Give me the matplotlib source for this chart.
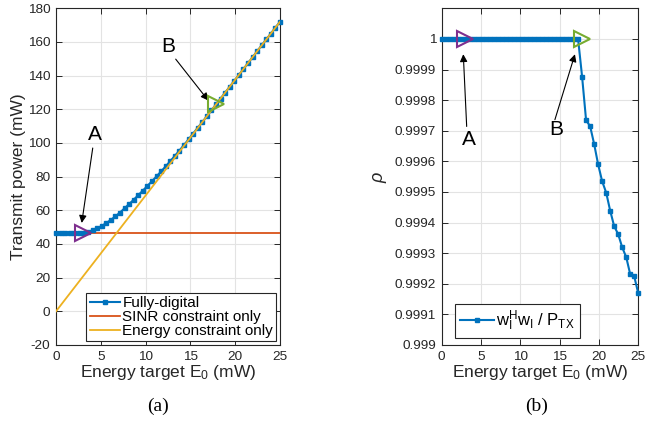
import numpy as np
import matplotlib
matplotlib.use("Agg")
import matplotlib.pyplot as plt

plt.rcParams["font.family"] = ["Liberation Sans", "DejaVu Sans"]
plt.rcParams["mathtext.fontset"] = "custom"
plt.rcParams["mathtext.rm"] = "Liberation Sans"
plt.rcParams["mathtext.it"] = "Liberation Sans:italic"
plt.rcParams["mathtext.bf"] = "Liberation Sans:bold"
plt.rcParams["axes.unicode_minus"] = False

# Energy target grid (mW)
energy_target = np.linspace(0, 25, 50)

# (a) transmit power (mW)
fully_digital = [
    46.7, 46.7, 46.7, 46.7, 46.7, 46.7, 46.7, 47.2, 48.1, 49.3,
    50.7, 52.4, 54.3, 56.4, 58.7, 61.2, 63.7, 66.3, 69.0, 71.7,
    74.5, 77.3, 80.2, 83.1, 86.1, 89.2, 92.3, 95.5, 98.8, 102.1,
    105.6, 109.0, 112.4, 115.9, 119.3, 122.9, 126.4, 129.9, 133.4, 136.9,
    140.4, 143.9, 147.4, 150.9, 154.5, 158.0, 161.5, 165.0, 168.5, 172.0,
]
sinr_only_power = 46.7
energy_only_x = [0, 25]
energy_only_y = [0.0, 172.0]

# (b) ratio rho
rho = [1.0] * 35 + [
    0.999877, 0.999734, 0.999715, 0.999657, 0.999590,
    0.999535, 0.999498, 0.999439, 0.999388, 0.999362,
    0.999319, 0.999287, 0.999231, 0.999224, 0.999169,
]

# operating points A and B
point_A_E, point_A_P = 3.0, 46.7
point_B_E, point_B_P = 17.86, 122.9

C_BLUE = "#0072BD"
C_RED = "#D95319"
C_YEL = "#EDB120"
C_PUR = "#7E2F8E"
C_GRN = "#77AC30"
C_TXT = "#262626"

TICK_FS = 9.7
LABEL_FS = 12.5

fig = plt.figure(figsize=(6.46, 4.23), dpi=100)
ax1 = fig.add_axes([0.0867, 0.1844, 0.3467, 0.796])
ax2 = fig.add_axes([0.6837, 0.1844, 0.3043, 0.796])


def style_axes(ax):
    ax.grid(True, color="#e3e3e3", linewidth=0.8)
    ax.set_axisbelow(True)
    for sp in ax.spines.values():
        sp.set_color(C_TXT)
        sp.set_linewidth(0.8)
    ax.tick_params(direction="in", top=True, right=True, length=4,
                   width=0.7, colors=C_TXT, labelsize=TICK_FS, pad=4)
    for lbl in ax.get_xticklabels() + ax.get_yticklabels():
        lbl.set_color(C_TXT)


# ---- (a) ----
ax1.plot(energy_target, fully_digital, color=C_BLUE, lw=1.5, marker="s",
         ms=3.2, mfc=C_BLUE, mec=C_BLUE, label="Fully-digital", zorder=4,
         clip_on=False)
ax1.axhline(sinr_only_power, color=C_RED, lw=1.3, label="SINR constraint only",
            zorder=3)
ax1.plot(energy_only_x, energy_only_y, color=C_YEL, lw=1.3,
         label="Energy constraint only", zorder=5)
ax1.plot(point_A_E, point_A_P, marker=">", ms=12, mfc="none", mec=C_PUR,
         mew=1.5, zorder=6, clip_on=False)
ax1.plot(point_B_E, point_B_P, marker=">", ms=12, mfc="none", mec=C_GRN,
         mew=1.5, zorder=6, clip_on=False)
ax1.set_xlim(0, 25)
ax1.set_ylim(-20, 180)
ax1.set_xticks(np.arange(0, 26, 5))
ax1.set_yticks(np.arange(-20, 181, 20))
ax1.set_xlabel(r"Energy target E$_\mathregular{0}$ (mW)", fontsize=LABEL_FS,
               color=C_TXT, labelpad=0)
ax1.set_ylabel("Transmit power (mW)", fontsize=LABEL_FS, color=C_TXT,
               labelpad=1)
style_axes(ax1)

arrow_kw = dict(arrowstyle="-|>", color="k", lw=0.8, mutation_scale=11,
                shrinkA=0, shrinkB=0)
ax1.text(4.35, 104.9, "A", fontsize=15, ha="center", va="center")
ax1.annotate("", xy=(2.87, 52.5), xytext=(4.1, 97.0), arrowprops=arrow_kw)
ax1.text(12.5, 157.2, "B", fontsize=15, ha="center", va="center")
ax1.annotate("", xy=(17.0, 125.2), xytext=(13.36, 149.8), arrowprops=arrow_kw)

leg1 = ax1.legend(loc="lower right", fontsize=11, frameon=True, fancybox=False,
                  edgecolor=C_TXT, framealpha=1, borderpad=0.2,
                  labelspacing=0.0, handlelength=2.0, handletextpad=0.15,
                  borderaxespad=0.25)
leg1.get_frame().set_linewidth(0.8)

# ---- (b) ----
ax2.plot(energy_target, rho, color=C_BLUE, lw=1.5, marker="s", ms=3.2,
         mfc=C_BLUE, mec=C_BLUE, zorder=4, clip_on=False,
         label=r"$\mathregular{w_I^H w_I}$ / $\mathregular{P_{TX}}$")
ax2.plot(point_A_E, 1.0, marker=">", ms=12, mfc="none", mec=C_PUR, mew=1.5,
         zorder=6, clip_on=False)
ax2.plot(point_B_E, 1.0, marker=">", ms=12, mfc="none", mec=C_GRN, mew=1.5,
         zorder=6, clip_on=False)
ax2.set_xlim(0, 25)
ax2.set_ylim(0.999, 1.0001)
ax2.set_xticks(np.arange(0, 26, 5))
rho_ticks = [0.999, 0.9991, 0.9992, 0.9993, 0.9994, 0.9995, 0.9996,
             0.9997, 0.9998, 0.9999, 1.0]
rho_tick_labels = ["0.999", "0.9991", "0.9992", "0.9993", "0.9994", "0.9995",
                   "0.9996", "0.9997", "0.9998", "0.9999", "1"]
ax2.set_yticks(rho_ticks)
ax2.set_yticklabels(rho_tick_labels)
ax2.set_xlabel(r"Energy target E$_\mathregular{0}$ (mW)", fontsize=LABEL_FS,
               color=C_TXT, labelpad=0)
ax2.set_ylabel(r"$\rho$", fontsize=13, color=C_TXT, labelpad=4)
style_axes(ax2)

ax2.text(3.51, 0.999671, "A", fontsize=15, ha="center", va="center")
ax2.annotate("", xy=(2.75, 0.99995), xytext=(3.18, 0.999714),
             arrowprops=arrow_kw)
ax2.text(14.62, 0.999703, "B", fontsize=15, ha="center", va="center")
ax2.annotate("", xy=(16.95, 0.99995), xytext=(14.4, 0.999736),
             arrowprops=arrow_kw)

leg2 = ax2.legend(loc="lower left", bbox_to_anchor=(0.07, 0.02), fontsize=12,
                  frameon=True, fancybox=False, edgecolor=C_TXT, framealpha=1,
                  borderpad=0.3, handlelength=2.0, handletextpad=0.15,
                  borderaxespad=0)
leg2.get_frame().set_linewidth(0.8)

fig.text(158.5 / 646, 1 - 406.7 / 423, "(a)", fontsize=14,
         family="Liberation Serif", ha="center", va="center")
fig.text(537 / 646, 1 - 406.7 / 423, "(b)", fontsize=14,
         family="Liberation Serif", ha="center", va="center")

fig.savefig("out.png", dpi=100)
